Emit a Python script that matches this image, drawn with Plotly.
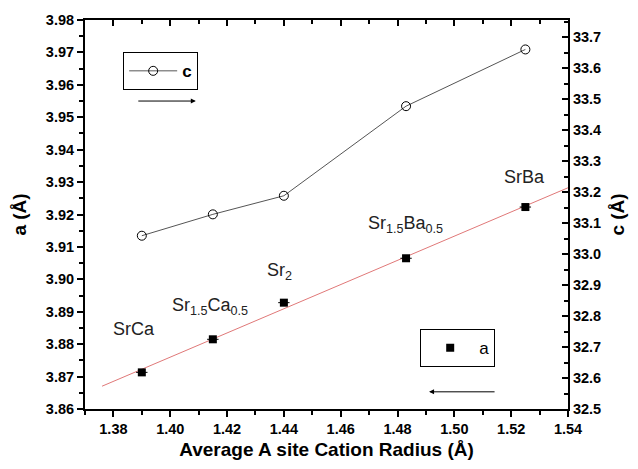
import numpy as np
import plotly.graph_objects as go

radius = [1.39, 1.415, 1.44, 1.483, 1.525]
a_vals = [3.8713, 3.8815, 3.8928, 3.9065, 3.9223]
a_err = [0.002, 0.002, 0.002, 0.002, 0.002]
c_vals = [33.059, 33.128, 33.188, 33.477, 33.660]
labels = ["SrCa", "Sr<sub>1.5</sub>Ca<sub>0.5</sub>", "Sr<sub>2</sub>",
          "Sr<sub>1.5</sub>Ba<sub>0.5</sub>", "SrBa"]
label_x = [1.3873, 1.414, 1.4386, 1.4828, 1.5246]
label_y = [3.8847, 3.8915, 3.9024, 3.9170, 3.9316]
fit_x = [1.376, 1.54]

slope, icpt = np.polyfit(radius, a_vals, 1)
fit_y = [slope * x + icpt for x in fit_x]

FONT = "Liberation Sans"
fig = go.Figure()

fig.add_trace(go.Scatter(x=fit_x, y=fit_y, mode="lines",
                         line=dict(color="#e07878", width=1), showlegend=False))
fig.add_trace(go.Scatter(x=radius, y=a_vals, mode="markers", name="a",
                         marker=dict(symbol="square", size=8, color="black"),
                         error_x=dict(type="data", array=a_err, color="black",
                                      thickness=1, width=0),
                         legend="legend2"))
fig.add_trace(go.Scatter(x=radius, y=c_vals, mode="lines+markers", name="c",
                         yaxis="y2",
                         line=dict(color="#555555", width=1),
                         marker=dict(symbol="circle-open", size=9,
                                     color="black", line=dict(width=1)),
                         legend="legend"))
# invisible trace anchoring the top (mirror) axis
fig.add_trace(go.Scatter(x=[1.37], y=[3.86], xaxis="x2", mode="markers",
                         marker=dict(opacity=0), showlegend=False, hoverinfo="skip"))

for t, x, y in zip(labels, label_x, label_y):
    fig.add_annotation(x=x, y=y, text=t, showarrow=False,
                       font=dict(family=FONT, size=18, color="#222"))

# arrows
fig.add_annotation(x=1.409, y=3.955, ax=-59, ay=0, axref="pixel", ayref="pixel",
                   xref="x", yref="y", showarrow=True, arrowhead=2,
                   arrowsize=1, arrowwidth=1, arrowcolor="black", text="")
fig.add_annotation(x=1.4911, y=3.8653, ax=67, ay=0, axref="pixel", ayref="pixel",
                   xref="x", yref="y", showarrow=True, arrowhead=2,
                   arrowsize=1, arrowwidth=1, arrowcolor="black", text="")

tickfont = dict(family=FONT, size=14.5, color="black", weight="bold")
titlefont = dict(family=FONT, size=19, color="black", weight="bold")
base = dict(showline=True, linecolor="black", linewidth=2, showgrid=False,
            zeroline=False, tickcolor="black", tickwidth=1.5, ticklen=6,
            tickfont=tickfont, automargin=False)

fig.update_layout(
    width=638, height=469,
    margin=dict(l=85, r=70, t=20, b=60),
    plot_bgcolor="white", paper_bgcolor="white",
    xaxis=dict(range=[1.37, 1.54], dtick=0.02, tickformat=".2f", ticks="outside",
               minor=dict(dtick=0.01, ticks="outside", ticklen=4, tickcolor="black"),
               title=dict(text="Average A site Cation Radius (Å)", standoff=6,
                          font=titlefont),
               **base),
    xaxis2=dict(range=[1.37, 1.54], overlaying="x", side="top", showline=True,
                linecolor="black", linewidth=2, showgrid=False, zeroline=False,
                ticks="inside", dtick=0.02, ticklen=6, tickcolor="black", tickwidth=1.5,
                showticklabels=False, automargin=False,
                minor=dict(dtick=0.01, ticks="inside", ticklen=4, tickcolor="black")),
    yaxis=dict(range=[3.86, 3.98], dtick=0.01, tickformat=".2f", ticks="outside",
               minor=dict(dtick=0.005, ticks="outside", ticklen=4, tickcolor="black"),
               title=dict(text="a (Å)", standoff=14, font=titlefont),
               **base),
    yaxis2=dict(range=[32.5, 33.755], dtick=0.1, tickformat=".1f", overlaying="y",
                side="right", ticks="inside",
                minor=dict(dtick=0.05, ticks="inside", ticklen=4, tickcolor="black"),
                title=dict(text="c (Å)", standoff=11, font=titlefont),
                **base),
    legend=dict(x=0.079, y=0.917, xanchor="left", yanchor="top",
                bordercolor="black", borderwidth=1, bgcolor="white",
                font=dict(family=FONT, size=17, color="black", weight="bold"),
                itemwidth=48),
    legend2=dict(x=0.694, y=0.205, xanchor="left", yanchor="top",
                 bordercolor="black", borderwidth=1, bgcolor="white",
                 font=dict(family=FONT, size=17, color="black"),
                 itemwidth=48),
)

fig.write_html("out.html", config={"displayModeBar": False},
               post_script="document.body.style.margin='0px';")
